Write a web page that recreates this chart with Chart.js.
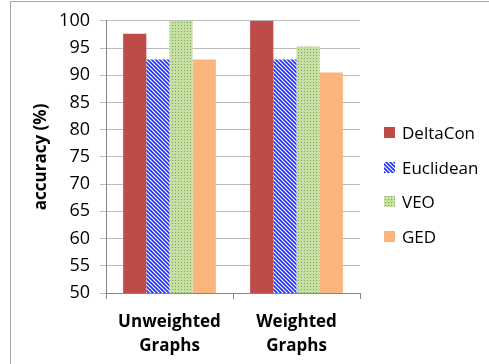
<!DOCTYPE html>
<html><head><meta charset="utf-8">
<script src="https://cdn.jsdelivr.net/npm/chart.js@4/dist/chart.umd.min.js"></script>
<style>html,body{margin:0;padding:0;background:#fff;}#wrap{width:489px;height:364px;position:relative;}</style>
</head><body><div id="wrap"><canvas id="c" width="489" height="364"></canvas></div>
<script>
const categories = [["Unweighted","Graphs"],["Weighted","Graphs"]];
const seriesNames = ["DeltaCon","Euclidean","VEO","GED"];
const deltaCon = [97.6, 100];
const euclidean = [92.9, 92.9];
const veo = [100, 95.3];
const ged = [92.9, 90.5];
const yTicks = [50,55,60,65,70,75,80,85,90,95,100];

function stripePattern(){
  const c=document.createElement('canvas');c.width=4;c.height=4;
  const x=c.getContext('2d');x.fillStyle='#ffffff';x.fillRect(0,0,4,4);
  x.strokeStyle='#1c2fff';x.lineWidth=1.6;
  x.beginPath();x.moveTo(-1,-1);x.lineTo(5,5);x.moveTo(-1,3);x.lineTo(1,5);x.moveTo(3,-1);x.lineTo(5,1);x.stroke();
  return x.createPattern(c,'repeat');
}
function dotPattern(){
  const c=document.createElement('canvas');c.width=3;c.height=3;
  const x=c.getContext('2d');x.fillStyle='#c7dea5';x.fillRect(0,0,3,3);
  x.fillStyle='#79ad52';x.fillRect(1,1,1,1);
  return x.createPattern(c,'repeat');
}
const ctx=document.getElementById('c').getContext('2d');
const fills=['#be4b48',stripePattern(),dotPattern(),'#fab47c'];
const values=[deltaCon,euclidean,veo,ged];

const frame={id:'frame',afterDraw(chart){
  const g=chart.ctx;g.save();g.strokeStyle='#a6a6a6';g.lineWidth=1;
  g.beginPath();g.moveTo(10.5,364);g.lineTo(10.5,1.5);g.lineTo(489,1.5);g.stroke();
  const x0=384, ys=[133,168,202,237];
  g.font='17px "Open Sans"';g.textBaseline='middle';
  chart.data.datasets.forEach((d,i)=>{
    g.fillStyle=d.backgroundColor;g.fillRect(x0,ys[i]-6,11,11);
    g.fillStyle='#000';g.fillText(d.label,x0+18,ys[i]+1);
  });
  g.restore();
}};

new Chart(ctx,{type:'bar',
 data:{labels:categories,datasets:seriesNames.map((n,i)=>({label:n,data:values[i],backgroundColor:fills[i],borderWidth:0}))},
 options:{responsive:false,animation:false,
  layout:{padding:{top:10,right:129,left:31,bottom:0}},
  datasets:{bar:{categoryPercentage:0.73,barPercentage:1}},
  plugins:{legend:{display:false},tooltip:{enabled:false}},
  scales:{
   x:{grid:{drawOnChartArea:false,drawTicks:true,tickLength:6,color:'#868686'},border:{color:'#868686'},
      ticks:{color:'#000',font:{family:'Open Sans',size:17,weight:'bold',lineHeight:1.4},padding:11},
      afterFit(s){s.height=71;}},
   y:{min:50,max:100,afterBuildTicks(s){s.ticks=yTicks.map(v=>({value:v}));},
      grid:{color:'#bcbcbc',tickLength:6},border:{color:'#868686'},
      ticks:{color:'#000',font:{family:'Open Sans',size:18},padding:10},
      title:{display:true,text:'accuracy (%)',color:'#000',font:{family:'Open Sans',size:17,weight:'bold'},padding:{top:0,bottom:4}},
      afterFit(s){s.width=75;}}
  }},
 plugins:[frame]});
</script></body></html>
